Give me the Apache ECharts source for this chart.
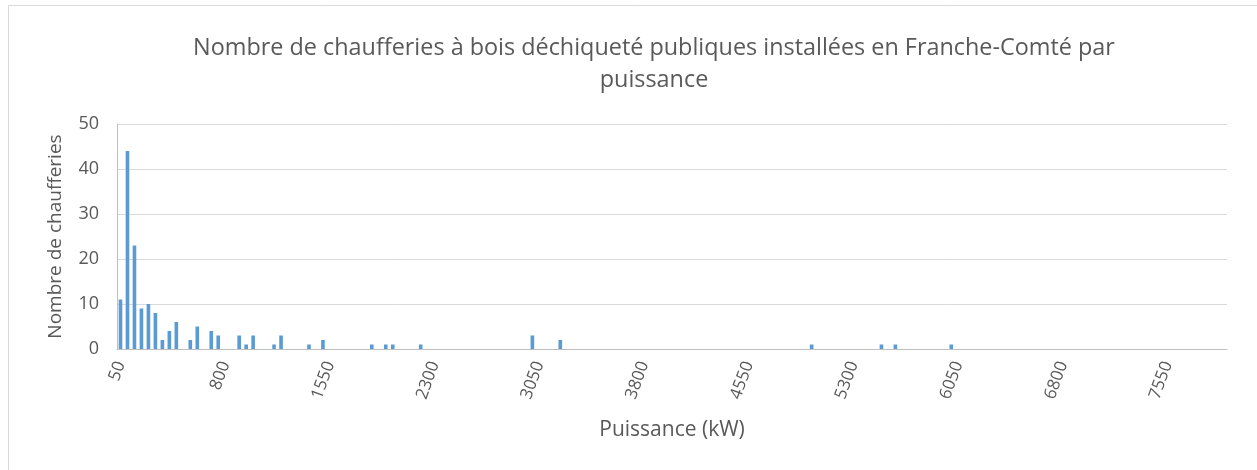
<!DOCTYPE html>
<html>
<head>
<meta charset="utf-8">
<script src="https://cdn.jsdelivr.net/npm/echarts@6/dist/echarts.min.js"></script>
<style>
  html, body { margin: 0; padding: 0; background: #fff; }
  #chart { width: 1257px; height: 470px; }
</style>
</head>
<body>
<div id="chart"></div>
<script>
// axis range in kW (category step 50)
const powerStart = 50;
const powerEnd = 7950;
const powerStep = 50;

// nonzero bars
const powers = [50, 100, 150, 200, 250, 300, 350, 400, 450, 550, 600, 700, 750, 900, 950, 1000,
    1150, 1200, 1400, 1500, 1850, 1950, 2000, 2200, 3000, 3200, 5000, 5500, 5600, 6000];
const counts = [11, 44, 23, 9, 10, 8, 2, 4, 6, 2, 5, 4, 3, 3, 1, 3,
    1, 3, 1, 2, 1, 1, 1, 1, 3, 2, 1, 1, 1, 1];

const yTicks = [0, 10, 20, 30, 40, 50];

const titleLines = [
    'Nombre de chaufferies à bois déchiqueté publiques installées en Franche-Comté par',
    'puissance'
];

const categories = [];
for (let p = powerStart; p <= powerEnd; p += powerStep) {
    categories.push(String(p));
}
const barData = powers.map((p, i) => [String(p), counts[i]]);

const font = '"Open Sans", "Liberation Sans", sans-serif';
const grey = '#595959';
const chart = echarts.init(document.getElementById('chart'));

chart.setOption({
    animation: false,
    textStyle: { fontFamily: font },
    graphic: [{
        type: 'rect',
        shape: { x: 8.5, y: 5.5, width: 1260, height: 480 },
        style: { fill: 'none', stroke: '#d9d9d9', lineWidth: 1 },
        silent: true
    }, {
        type: 'text',
        x: 654, y: 48,
        style: { text: titleLines[0], fontSize: 23.4, fontFamily: font, fill: grey, align: 'center', verticalAlign: 'middle' }
    }, {
        type: 'text',
        x: 654, y: 80,
        style: { text: titleLines[1], fontSize: 23.4, fontFamily: font, fill: grey, align: 'center', verticalAlign: 'middle' }
    }],
    grid: { left: 117, right: 30, top: 124, height: 225 },
    xAxis: {
        type: 'category',
        data: categories,
        boundaryGap: true,
        name: 'Puissance (kW)',
        nameLocation: 'middle',
        nameGap: 71,
        nameTextStyle: { fontSize: 21, color: grey },
        axisLine: { lineStyle: { color: '#bfbfbf', width: 1 } },
        axisTick: { show: false },
        axisLabel: { interval: 14, rotate: 70, fontSize: 17, color: grey, margin: 13 }
    },
    yAxis: {
        type: 'value',
        min: yTicks[0],
        max: yTicks[yTicks.length - 1],
        interval: 10,
        name: 'Nombre de chaufferies',
        nameLocation: 'middle',
        nameGap: 52,
        nameTextStyle: { fontSize: 19, color: grey },
        axisLine: { show: true, lineStyle: { color: '#bfbfbf', width: 1 } },
        axisTick: { show: false },
        axisLabel: { fontSize: 18, color: grey, margin: 18 },
        splitLine: { lineStyle: { color: '#d9d9d9', width: 1 } }
    },
    series: [{
        type: 'bar',
        data: barData,
        barWidth: '52%',
        itemStyle: { color: '#5b9bd5' }
    }]
});
</script>
</body>
</html>
